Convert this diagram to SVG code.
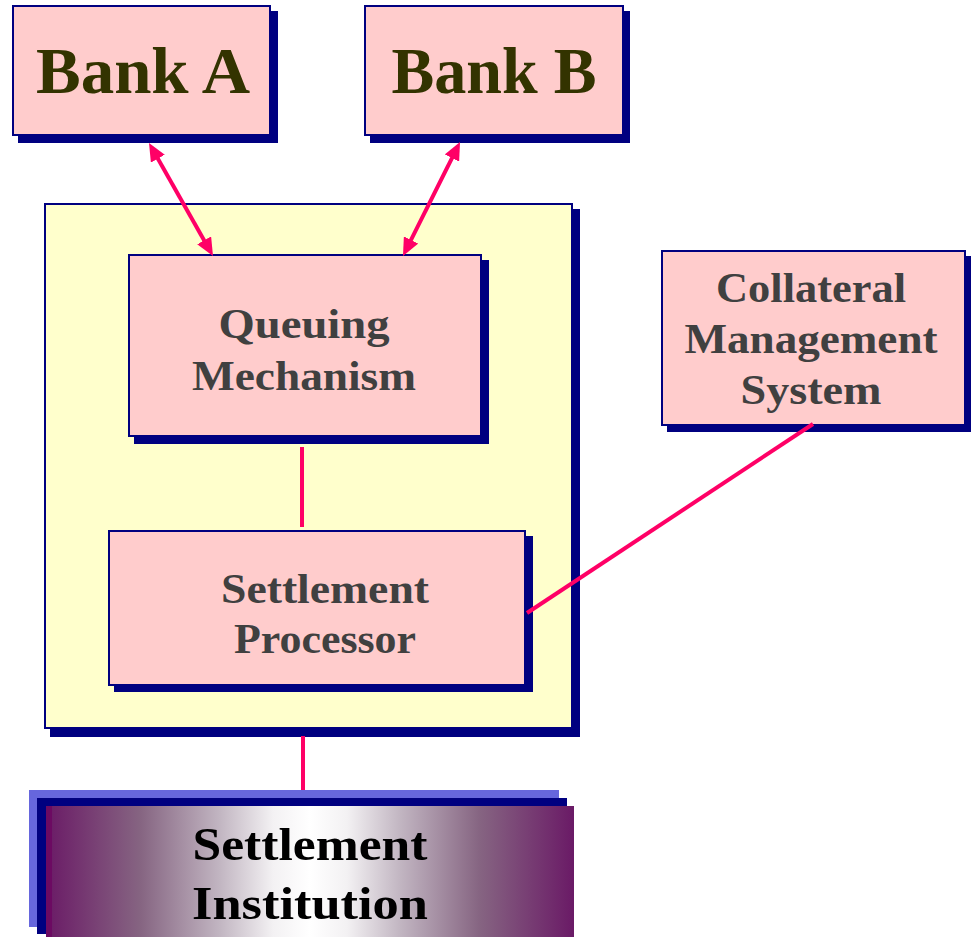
<svg xmlns="http://www.w3.org/2000/svg" width="973" height="937" viewBox="0 0 973 937">
  <style>
    .box { fill: #ffcccc; stroke: #000080; stroke-width: 2; }
    .panel { fill: #ffffcc; stroke: #000080; stroke-width: 2; }
    .shadow { fill: #000080; }
    .link { stroke: #ff0066; stroke-width: 4; fill: none; }
    text { font-family: "Liberation Serif", "DejaVu Serif", serif; font-weight: bold; text-anchor: middle; }
    .bank { font-size: 66px; fill: #333300; }
    .lbl { font-size: 42px; fill: #404040; }
    .inst { font-size: 46px; fill: #000000; }
  </style>
  <defs>
    <marker id="arrow" viewBox="0 0 18 16" refX="5" refY="8" markerWidth="18" markerHeight="16" markerUnits="userSpaceOnUse" orient="auto-start-reverse">
      <path d="M0,0 L18,8 L0,16 z" fill="#ff0066"/>
    </marker>
    <linearGradient id="instFill" x1="0" y1="0" x2="1" y2="0">
      <stop offset="0" stop-color="#6a1a66"/>
      <stop offset="0.18" stop-color="#866582"/>
      <stop offset="0.33" stop-color="#c2b6c2"/>
      <stop offset="0.43" stop-color="#f3f1f3"/>
      <stop offset="0.5" stop-color="#ffffff"/>
      <stop offset="0.57" stop-color="#f3f1f3"/>
      <stop offset="0.67" stop-color="#c2b6c2"/>
      <stop offset="0.82" stop-color="#866582"/>
      <stop offset="1" stop-color="#6a1a66"/>
    </linearGradient>
  </defs>

  <!-- outer RTGS panel -->
  <g id="rtgs-panel">
    <rect class="shadow" x="50" y="209" width="530" height="528"/>
    <rect class="panel" x="45" y="204" width="527" height="524"/>
  </g>

  <g id="bank-a">
    <rect class="shadow" x="18" y="11" width="260" height="132"/>
    <rect class="box" x="13" y="6" width="257" height="129"/>
    <text class="bank" x="143" y="93" textLength="214" lengthAdjust="spacingAndGlyphs">Bank A</text>
  </g>

  <g id="bank-b">
    <rect class="shadow" x="370" y="11" width="260" height="132"/>
    <rect class="box" x="365" y="6" width="258" height="129"/>
    <text class="bank" x="494" y="93" textLength="205" lengthAdjust="spacingAndGlyphs">Bank B</text>
  </g>

  <g id="queuing-mechanism">
    <rect class="shadow" x="134" y="260" width="355" height="184"/>
    <rect class="box" x="129" y="255" width="352" height="181"/>
    <text class="lbl" x="304" y="338" textLength="171" lengthAdjust="spacingAndGlyphs">Queuing</text>
    <text class="lbl" x="304" y="390" textLength="224" lengthAdjust="spacingAndGlyphs">Mechanism</text>
  </g>

  <g id="settlement-processor">
    <rect class="shadow" x="114" y="536" width="419" height="156"/>
    <rect class="box" x="109" y="531" width="416" height="154"/>
    <text class="lbl" x="325" y="603" textLength="208" lengthAdjust="spacingAndGlyphs">Settlement</text>
    <text class="lbl" x="325" y="653" textLength="182" lengthAdjust="spacingAndGlyphs">Processor</text>
  </g>

  <g id="collateral-management">
    <rect class="shadow" x="667" y="256" width="304" height="176"/>
    <rect class="box" x="662" y="251" width="303" height="174"/>
    <text class="lbl" x="811" y="302" textLength="190" lengthAdjust="spacingAndGlyphs">Collateral</text>
    <text class="lbl" x="811" y="353" textLength="253" lengthAdjust="spacingAndGlyphs">Management</text>
    <text class="lbl" x="811" y="404" textLength="141" lengthAdjust="spacingAndGlyphs">System</text>
  </g>

  <g id="settlement-institution">
    <rect x="29" y="790" width="530" height="137" fill="#6666dd"/>
    <rect x="37" y="798" width="530" height="136" fill="#000080"/>
    <rect x="46" y="806" width="528" height="131" fill="url(#instFill)"/>
    <rect x="46" y="806" width="6" height="131" fill="#6c0a62"/>
    <text class="inst" x="310" y="860" textLength="235" lengthAdjust="spacingAndGlyphs">Settlement</text>
    <text class="inst" x="310" y="919" textLength="236" lengthAdjust="spacingAndGlyphs">Institution</text>
  </g>

  <!-- connectors -->
  <g id="connectors">
    <line class="link" x1="155.4" y1="154.3" x2="206.6" y2="244.7" marker-start="url(#arrow)" marker-end="url(#arrow)"/>
    <line class="link" x1="454.2" y1="153.6" x2="408.8" y2="244.4" marker-start="url(#arrow)" marker-end="url(#arrow)"/>
    <line class="link" x1="302" y1="447" x2="302" y2="527"/>
    <line class="link" x1="527" y1="613" x2="813" y2="424"/>
    <line class="link" x1="303" y1="736" x2="303" y2="790"/>
  </g>
</svg>
